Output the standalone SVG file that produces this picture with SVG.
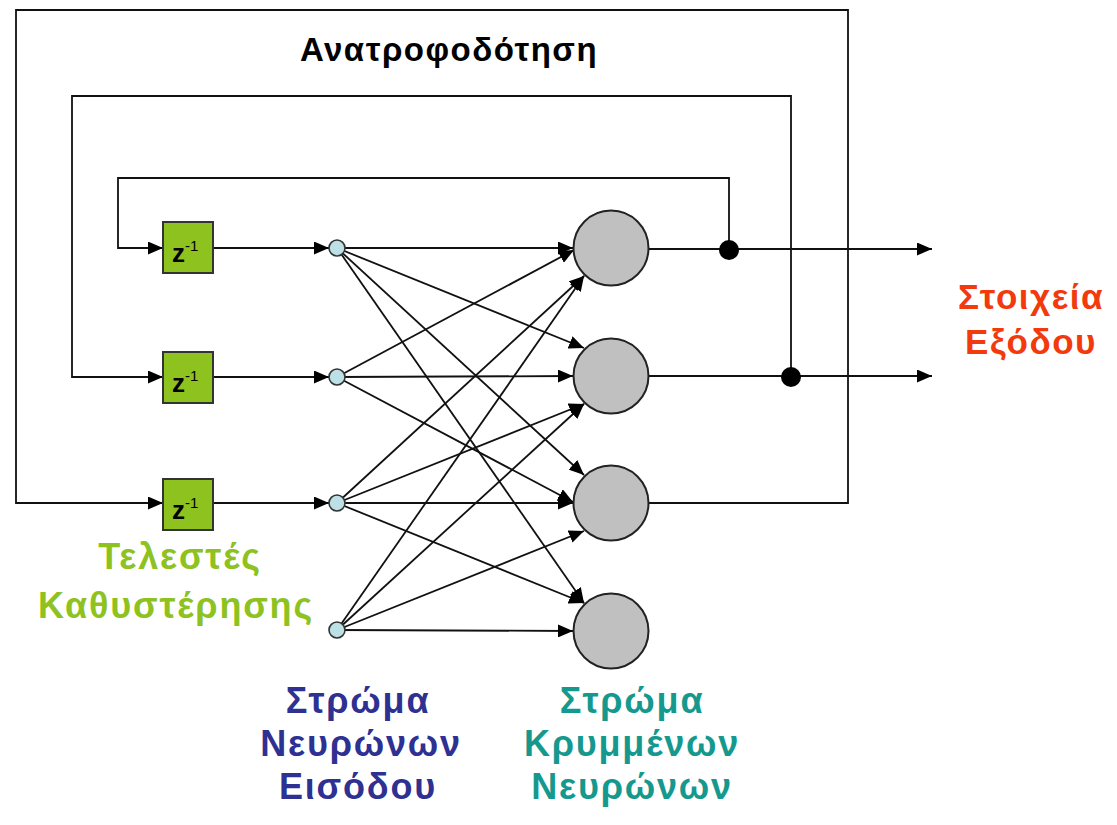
<svg xmlns="http://www.w3.org/2000/svg" width="1117" height="825" viewBox="0 0 1117 825">
<style>
.ln{fill:none;stroke:#111;stroke-width:1.8}
.arr{marker-end:url(#ah)}
.delay{fill:#8dc21f;stroke:#333;stroke-width:2}
.inp{fill:#bde0e6;stroke:#333;stroke-width:1.6}
.hid{fill:#c0c0c0;stroke:#222;stroke-width:2}
.dot{fill:#000}
.lbl{font-family:"Liberation Sans",Arial,sans-serif;font-weight:bold;text-anchor:middle}
.z{font-family:"Liberation Sans",Arial,sans-serif;fill:#000}
</style>
<defs>
<marker id="ah" viewBox="0 0 15 13" refX="15" refY="6.5" markerWidth="15" markerHeight="13" markerUnits="userSpaceOnUse" orient="auto">
<path d="M0,0 L15,6.5 L0,13 z" fill="#000"/>
</marker>
</defs>
<rect width="1117" height="825" fill="#fff"/>
<g id="connectors">
<polyline class="ln arr" points="649,503 848,503 848,10 16,10 16,503 163,503"/>
<polyline class="ln arr" points="791,377 791,96 72,96 72,377 163,377"/>
<polyline class="ln arr" points="729,250 729,178 118,178 118,248 163,248"/>
<line class="ln arr" x1="649" y1="249" x2="932" y2="249"/>
<line class="ln arr" x1="649" y1="376" x2="932" y2="376"/>
<line class="ln arr" x1="213" y1="248" x2="329" y2="248"/>
<line class="ln arr" x1="213" y1="377" x2="329" y2="377"/>
<line class="ln arr" x1="213" y1="503" x2="329" y2="503"/>
<line class="ln arr" x1="337" y1="248" x2="573" y2="248"/>
<line class="ln arr" x1="337" y1="248" x2="584" y2="348"/>
<line class="ln arr" x1="337" y1="248" x2="584" y2="475"/>
<line class="ln arr" x1="337" y1="248" x2="584" y2="603"/>
<line class="ln arr" x1="337" y1="377" x2="574" y2="250"/>
<line class="ln arr" x1="337" y1="377" x2="573" y2="376"/>
<line class="ln arr" x1="337" y1="377" x2="573" y2="502"/>
<line class="ln arr" x1="337" y1="503" x2="584" y2="276"/>
<line class="ln arr" x1="337" y1="503" x2="584" y2="404"/>
<line class="ln arr" x1="337" y1="503" x2="573" y2="503"/>
<line class="ln arr" x1="337" y1="503" x2="584" y2="603"/>
<line class="ln arr" x1="337" y1="630" x2="584" y2="276"/>
<line class="ln arr" x1="337" y1="630" x2="584" y2="404"/>
<line class="ln arr" x1="337" y1="630" x2="584" y2="531"/>
<line class="ln arr" x1="337" y1="630" x2="573" y2="631"/>
</g>
<g id="delay1"><rect class="delay" x="163" y="222" width="50" height="51"/><text class="z" x="172" y="262" font-size="26" font-weight="bold">z<tspan font-size="15" font-weight="normal" dy="-11">-1</tspan></text></g>
<g id="delay2"><rect class="delay" x="163" y="352" width="50" height="51"/><text class="z" x="172" y="392" font-size="26" font-weight="bold">z<tspan font-size="15" font-weight="normal" dy="-11">-1</tspan></text></g>
<g id="delay3"><rect class="delay" x="163" y="479" width="50" height="51"/><text class="z" x="172" y="519" font-size="26" font-weight="bold">z<tspan font-size="15" font-weight="normal" dy="-11">-1</tspan></text></g>
<g id="in1"><circle class="inp" cx="337" cy="248" r="8"/></g>
<g id="in2"><circle class="inp" cx="337" cy="377" r="8"/></g>
<g id="in3"><circle class="inp" cx="337" cy="503" r="8"/></g>
<g id="in4"><circle class="inp" cx="337" cy="630" r="8"/></g>
<g id="h1"><circle class="hid" cx="611" cy="248" r="37.5"/></g>
<g id="h2"><circle class="hid" cx="611" cy="376" r="37.5"/></g>
<g id="h3"><circle class="hid" cx="611" cy="503" r="37.5"/></g>
<g id="h4"><circle class="hid" cx="611" cy="631" r="37.5"/></g>
<g id="j1"><circle class="dot" cx="729" cy="250" r="10"/></g>
<g id="j2"><circle class="dot" cx="791" cy="377" r="10"/></g>
<g id="labels">
<text class="lbl" x="449" y="61" font-size="33" fill="#000" letter-spacing="1.5">Ανατροφοδότηση</text>
<text class="lbl" x="1031" y="309" font-size="35" fill="#f23a0c" letter-spacing="1.5">Στοιχεία</text>
<text class="lbl" x="1031" y="354" font-size="35" fill="#f23a0c" letter-spacing="1.5">Εξόδου</text>
<text class="lbl" x="180" y="569" font-size="36" fill="#8dc21f" letter-spacing="1.8">Τελεστές</text>
<text class="lbl" x="176" y="618" font-size="36" fill="#8dc21f" letter-spacing="1.8">Καθυστέρησης</text>
<text class="lbl" x="358" y="713" font-size="36" fill="#2e3192" letter-spacing="1.8">Στρώμα</text>
<text class="lbl" x="361" y="756" font-size="36" fill="#2e3192" letter-spacing="1.8">Νευρώνων</text>
<text class="lbl" x="358" y="799" font-size="36" fill="#2e3192" letter-spacing="1.8">Εισόδου</text>
<text class="lbl" x="632" y="713" font-size="36" fill="#15998e" letter-spacing="1.8">Στρώμα</text>
<text class="lbl" x="632" y="756" font-size="36" fill="#15998e" letter-spacing="1.8">Κρυμμένων</text>
<text class="lbl" x="632" y="799" font-size="36" fill="#15998e" letter-spacing="1.8">Νευρώνων</text>
</g>
</svg>
